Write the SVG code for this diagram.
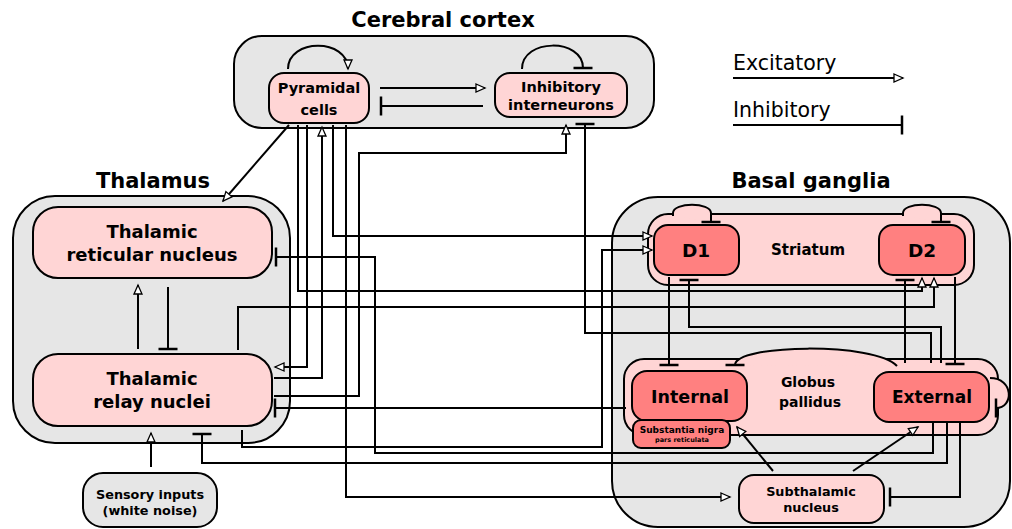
<svg xmlns="http://www.w3.org/2000/svg" width="1012" height="529" viewBox="0 0 1012 529">
<defs>
<style>
.cont{fill:#e6e6e6;stroke:#000;stroke-width:2}
.lt{fill:#ffd5d5;stroke:#000;stroke-width:2}
.dk{fill:#ff8080;stroke:#000;stroke-width:2}
.t{font-family:"DejaVu Sans",Verdana,sans-serif;font-weight:bold;text-anchor:middle;fill:#000}
.lg{font-family:"DejaVu Sans",Verdana,sans-serif;fill:#000;font-size:20.5px}
.c{fill:none;stroke:#000;stroke-width:2}
.ex{marker-end:url(#ah)}
.in{marker-end:url(#bar)}
.bump{fill:#ffd5d5;stroke:#000;stroke-width:2}
</style>
<marker id="ah" viewBox="-1 -1 12 10" refX="9" refY="4" markerWidth="12" markerHeight="10" markerUnits="userSpaceOnUse" orient="auto" overflow="visible">
<path d="M0,0 L9,4 L0,8 Z" fill="#fff" stroke="#000" stroke-width="1.3"/>
</marker>
<marker id="bar" viewBox="-2 -10 4 20" refX="0" refY="0" markerWidth="4" markerHeight="20" markerUnits="userSpaceOnUse" orient="auto" overflow="visible">
<path d="M0,-9.5 V9.5" stroke="#000" stroke-width="2.5" fill="none"/>
</marker>
</defs>
<rect width="1012" height="529" fill="#fff"/>

<g id="cortex">
<rect class="cont" x="234" y="36" width="420" height="92" rx="28"/>
<text class="t" x="443" y="27" font-size="21">Cerebral cortex</text>
</g>
<g id="thalamus">
<rect class="cont" x="13" y="196" width="277" height="247" rx="42"/>
<text class="t" x="153" y="188" font-size="21">Thalamus</text>
</g>
<g id="basal-ganglia">
<rect class="cont" x="612" y="197" width="398" height="330" rx="46"/>
<text class="t" x="811" y="188" font-size="21">Basal ganglia</text>
</g>

<g id="pyramidal">
<rect class="lt" x="269" y="73" width="100" height="50" rx="15"/>
<text class="t" x="319" y="93" font-size="14.5">Pyramidal</text>
<text class="t" x="319" y="115" font-size="14.5">cells</text>
</g>
<g id="interneurons">
<rect class="lt" x="495" y="73" width="132" height="44" rx="15"/>
<text class="t" x="561" y="92" font-size="14.5">Inhibitory</text>
<text class="t" x="561" y="110" font-size="14.5">interneurons</text>
</g>
<g id="trn">
<rect class="lt" x="33" y="207" width="239" height="71" rx="25"/>
<text class="t" x="152" y="238" font-size="18">Thalamic</text>
<text class="t" x="152" y="261" font-size="18">reticular nucleus</text>
</g>
<g id="relay">
<rect class="lt" x="33" y="354" width="239" height="72" rx="25"/>
<text class="t" x="152" y="385" font-size="18">Thalamic</text>
<text class="t" x="152" y="408" font-size="18">relay nuclei</text>
</g>
<g id="sensory">
<rect class="cont" x="83" y="473" width="134" height="54" rx="20"/>
<text class="t" x="150" y="499" font-size="12.8">Sensory inputs</text>
<text class="t" x="150" y="515" font-size="12.8">(white noise)</text>
</g>
<g id="striatum">
<rect class="lt" x="648" y="214" width="326" height="71" rx="20"/>
<text class="t" x="808" y="255" font-size="15">Striatum</text>
</g>
<g id="d1">
<rect class="dk" x="654" y="225" width="85" height="50" rx="14"/>
<text class="t" x="696" y="257" font-size="18.5">D1</text>
</g>
<g id="d2">
<rect class="dk" x="879" y="225" width="86" height="50" rx="14"/>
<text class="t" x="922" y="257" font-size="18.5">D2</text>
</g>
<g id="globus-pallidus">
<rect class="lt" x="624" y="359" width="374" height="76" rx="20"/>
<text class="t" x="808" y="387" font-size="14">Globus</text>
<text class="t" x="810" y="407" font-size="14">pallidus</text>
</g>
<g id="internal">
<rect class="dk" x="632" y="371" width="115" height="50" rx="15"/>
<text class="t" x="690" y="403" font-size="17.5">Internal</text>
</g>
<g id="snr">
<rect class="dk" x="633" y="420" width="97" height="28" rx="8"/>
<text class="t" x="682" y="433" font-size="9">Substantia nigra</text>
<text class="t" x="682" y="442" font-size="6.5">pars reticulata</text>
</g>
<g id="external">
<rect class="dk" x="874" y="372" width="115" height="50" rx="15"/>
<text class="t" x="932" y="403" font-size="17">External</text>
</g>
<g id="stn">
<rect class="lt" x="739" y="475" width="145" height="48" rx="15"/>
<text class="t" x="811" y="496" font-size="12.8">Subthalamic</text>
<text class="t" x="811" y="512" font-size="12.8">nucleus</text>
</g>

<g id="connectors">
<path class="c ex" d="M288 69 C288 38 348 38 348 69"/>
<path class="c in" d="M522 69 C522 38 583 38 583 68"/>
<path class="c ex" d="M380 88 H485"/>
<path class="c in" d="M483 106 H381"/>
<path class="c ex" d="M289 125 L223 201"/>
<path class="c ex" d="M298 125 V291 H922 V278"/>
<path class="c ex" d="M307 125 V367 H275"/>
<path class="c ex" d="M274 378 H322 V127"/>
<path class="c ex" d="M333 125 V236 H652"/>
<path class="c ex" d="M346 125 V497 H730"/>
<path class="c ex" d="M274 396 H359 V153 H566 V125"/>
<path class="c in" d="M931 363 V333 H585 V124"/>
<path class="c in" d="M933 423 V453 H375 V257 H276"/>
<path class="c ex" d="M138 349 V285"/>
<path class="c in" d="M168 287 V349"/>
<path class="c ex" d="M238 350 V307 H934 V278"/>
<path class="c ex" d="M242 430 V447 H602 V250 H652"/>
<path class="c in" d="M947 423 V463 H202 V434"/>
<path class="c in" d="M626 408 H275"/>
<path class="c ex" d="M151 467 V433"/>
<path class="bump in" d="M673 216 L673 213 C673 202 711 202 711 213 L711 222"/>
<path class="bump in" d="M903 216 L903 213 C903 202 941 202 941 213 L941 222"/>
<path class="c in" d="M941 363 V327 H689 V280"/>
<path class="c in" d="M905 363 V280"/>
<path class="c in" d="M955 277 V364"/>
<path class="c in" d="M669 277 V365"/>
<path class="bump in" d="M897 366 C875 342 735 344 735 365"/>
<path class="bump in" d="M990 378 C1014 378 1014 408 996 408"/>
<path class="c ex" d="M773 471 L737 427"/>
<path class="c ex" d="M853 471 L918 427"/>
<path class="c in" d="M960 423 V497 H890"/>
</g>

<g id="legend">
<text class="lg" x="733" y="70">Excitatory</text>
<path class="c ex" d="M733 78 H903"/>
<text class="lg" x="733" y="117">Inhibitory</text>
<path class="c in" d="M733 125 H902"/>
</g>
</svg>
